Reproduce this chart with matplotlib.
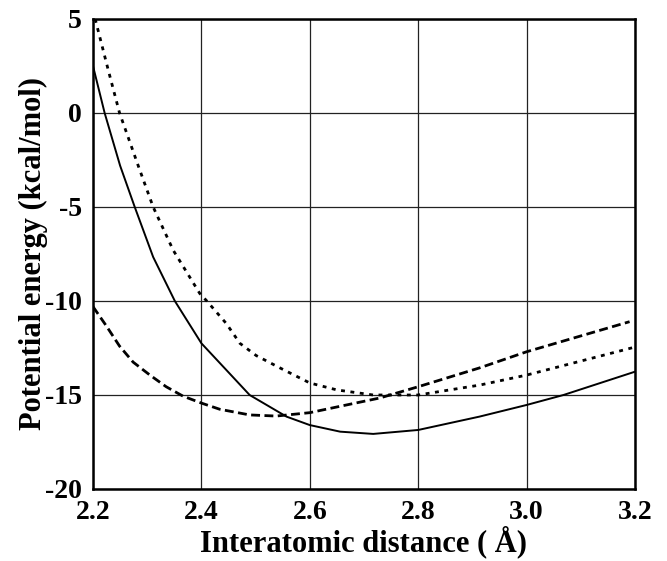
import matplotlib
matplotlib.use("Agg")
import matplotlib.pyplot as plt

# Data
solid_x = [2.20, 2.2215, 2.25, 2.277, 2.311, 2.351, 2.40, 2.446, 2.489, 2.557, 2.60, 2.656, 2.717, 2.80, 2.913, 3.00, 3.068, 3.20]
solid_y = [2.5, 0.0, -2.8, -5.0, -7.66, -10.0, -12.25, -13.67, -15.0, -16.15, -16.6, -16.95, -17.07, -16.86, -16.15, -15.53, -15.0, -13.76]

dotted_x = [2.204, 2.228, 2.249, 2.284, 2.311, 2.348, 2.397, 2.41, 2.446, 2.471, 2.501, 2.545, 2.60, 2.65, 2.717, 2.80, 2.914, 3.00, 3.20]
dotted_y = [5.0, 2.3, 0.0, -2.85, -5.0, -7.3, -9.6, -10.0, -11.2, -12.25, -12.9, -13.56, -14.36, -14.73, -15.0, -15.0, -14.47, -13.94, -12.45]

dashed_x = [2.20, 2.224, 2.249, 2.274, 2.305, 2.335, 2.366, 2.40, 2.434, 2.489, 2.538, 2.60, 2.656, 2.729, 2.80, 2.913, 3.00, 3.19]
dashed_y = [-10.3, -11.3, -12.4, -13.25, -13.94, -14.56, -15.06, -15.43, -15.76, -16.06, -16.12, -15.94, -15.6, -15.16, -14.56, -13.56, -12.7, -11.1]

x_ticks = [2.2, 2.4, 2.6, 2.8, 3.0, 3.2]
x_ticklabels = ["2.2", "2.4", "2.6", "2.8", "3.0", "3.2"]
y_ticks = [-20, -15, -10, -5, 0, 5]
y_ticklabels = ["-20", "-15", "-10", "-5", "0", "5"]

plt.rcParams['font.family'] = ['Liberation Serif', 'DejaVu Serif']

fig = plt.figure(figsize=(6.67, 5.61), dpi=100)
ax = fig.add_axes([93/667, 1-489/561, (635-93)/667, (489-19)/561])

ax.plot(solid_x, solid_y, color='black', lw=1.4, solid_joinstyle='round')
ax.plot(dotted_x, dotted_y, color='black', lw=2.0, dashes=(1.4, 2.0))
ax.plot(dashed_x, dashed_y, color='black', lw=2.0, dashes=(3.2, 1.6))

ax.set_xlim(2.2, 3.2)
ax.set_ylim(-20, 5)
ax.set_xticks(x_ticks)
ax.set_xticklabels(x_ticklabels)
ax.set_yticks(y_ticks)
ax.set_yticklabels(y_ticklabels)
ax.tick_params(length=0, labelsize=20, pad=8)
for lab in ax.get_xticklabels() + ax.get_yticklabels():
    lab.set_fontweight('bold')
ax.grid(True, color='#222222', lw=0.9)
ax.set_axisbelow(True)
for s in ax.spines.values():
    s.set_linewidth(1.8)

ax.set_xlabel("Interatomic distance ( Å)", fontsize=22, fontweight='bold', labelpad=0)
ax.set_ylabel("Potential energy (kcal/mol)", fontsize=22, fontweight='bold', labelpad=-2)

fig.savefig("out.png", dpi=100)
